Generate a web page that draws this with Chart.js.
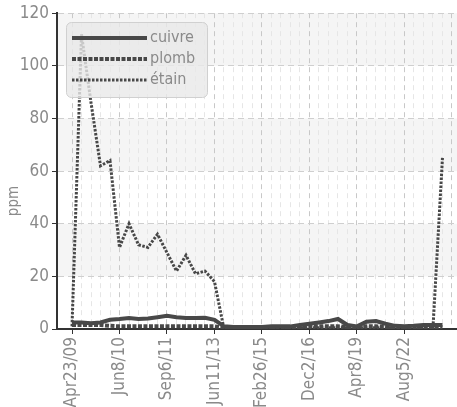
<!DOCTYPE html>
<html>
<head>
<meta charset="utf-8">
<script src="https://cdn.jsdelivr.net/npm/chart.js@4"></script>
<style>
  html, body { margin: 0; padding: 0; background: #fff; }
  #cont { width: 457px; height: 407px; position: relative; }
</style>
</head>
<body>
<div id="cont"><canvas id="grafMetaux"></canvas></div>
<script>
// etiquettes de l'axe x (une tous les 5 points)
const etiquettes = ['Apr23/09', 'Jun8/10', 'Sep6/11', 'Jun11/13', 'Feb26/15', 'Dec2/16', 'Apr8/19', 'Aug5/22']
const pasEtiquette = 5

const cuivre = [2.5, 2.5, 2.2, 2.5, 3.5, 3.8, 4.2, 3.8, 4, 4.5, 5, 4.5, 4.2, 4.2, 4.3, 3.5, 1, 0.8, 0.8, 0.8,
                0.8, 1, 1, 1, 1.5, 2, 2.5, 3, 3.8, 1.5, 1, 2.8, 3, 2, 1.2, 1, 1.2, 1.5, 1.5, 1.5]
const plomb = [1.5, 1.5, 1.5, 1.5, 1.2, 1, 1, 1, 1, 1, 1, 1, 1, 1, 1, 1, 0.5, 0.5, 0.5, 0.5,
               0.5, 0.5, 0.5, 0.5, 0.8, 1, 1, 1, 1, 0.8, 0.8, 1, 1, 0.8, 0.5, 0.5, 0.5, 0.8, 0.8, 0.8]
const etain = [1, 112, 86, 62, 64, 31, 40, 32, 31, 36, 29, 22, 28, 21, 22, 18, 0, 0.3, 0.3, 0.3,
               0.3, 0.3, 0.3, 0.5, 0.5, 0.5, 0.5, 0.5, 0.5, 0.5, 0.5, 0.5, 0.5, 0.5, 0.5, 0.5, 0.5, 0.5, 0.5, 65]

const police = "'Liberation Sans Narrow', 'DejaVu Sans Condensed', 'Roboto', sans-serif"
const gris = '#484848'

function serie(label, valeurs, largeur, tirets) {
    return {
        label: label,
        data: valeurs.map((v, i) => ({x: i, y: v})),
        borderColor: gris,
        backgroundColor: gris,
        borderWidth: largeur,
        borderDash: tirets,
        pointRadius: 0,
        tension: 0,
    }
}

// bandes grises alternees
const bandes = {
    id: 'bandes',
    beforeDraw(chart) {
        let ctx = chart.ctx
        let a = chart.chartArea
        let y = chart.scales.y
        ctx.save()
        ctx.fillStyle = '#f5f5f5'
        for (let v = 20; v < 120; v += 40) {
            let haut = y.getPixelForValue(v + 20)
            let bas = y.getPixelForValue(v)
            ctx.fillRect(a.left, haut, a.right - a.left, bas - haut)
        }
        ctx.restore()
    }
}

// legende dans le graphique + titre ppm
const legende = {
    id: 'legende',
    afterDraw(chart) {
        let ctx = chart.ctx
        ctx.save()
        ctx.fillStyle = 'rgba(232,232,232,0.8)'
        ctx.strokeStyle = '#d0d0d0'
        ctx.lineWidth = 1
        ctx.beginPath()
        ctx.roundRect(66.5, 22.5, 141, 75, 5)
        ctx.fill()
        ctx.stroke()
        chart.data.datasets.forEach((ds, i) => {
            let y = 38 + i * 21
            ctx.strokeStyle = ds.borderColor
            ctx.lineWidth = ds.borderWidth
            ctx.setLineDash(ds.borderDash)
            ctx.beginPath()
            ctx.moveTo(72, y)
            ctx.lineTo(147, y)
            ctx.stroke()
            ctx.setLineDash([])
            ctx.fillStyle = '#8a8a8a'
            ctx.font = '16px ' + police
            ctx.textBaseline = 'middle'
            ctx.fillText(ds.label, 150, y)
        })
        ctx.translate(14, 201)
        ctx.rotate(-Math.PI / 2)
        ctx.textAlign = 'center'
        ctx.textBaseline = 'middle'
        ctx.fillStyle = '#8a8a8a'
        ctx.font = '15px ' + police
        ctx.fillText('ppm', 0, 0)
        ctx.restore()
    }
}

let graf = new Chart(document.getElementById('grafMetaux'), {
    type: 'line',
    data: {
        datasets: [
            serie('cuivre', cuivre, 4, []),
            serie('plomb', plomb, 4, [4, 1.5]),
            serie('étain', etain, 3, [2.5, 1.5]),
        ]
    },
    options: {
        responsive: true,
        maintainAspectRatio: false,
        animation: false,
        layout: { padding: { top: 11, right: 0 } },
        plugins: { legend: { display: false }, tooltip: { enabled: false } },
        scales: {
            x: {
                type: 'linear',
                min: -1.58,
                max: 40.53,
                afterBuildTicks(axis) {
                    let t = []
                    for (let i = 0; i <= 40; i++) t.push({value: i})
                    axis.ticks = t
                },
                afterFit(axis) {
                    axis.height = 78
                    axis.paddingLeft = 0
                    axis.paddingRight = 0
                },
                ticks: {
                    autoSkip: false,
                    maxRotation: 90,
                    minRotation: 90,
                    color: '#8a8a8a',
                    font: { family: police, size: 17 },
                    padding: 3,
                    callback: (v) => (v % pasEtiquette === 0 && etiquettes[v / pasEtiquette]) || '',
                },
                grid: {
                    color: (c) => c.tick && c.tick.value % pasEtiquette === 0 ? '#c8c8c8' : '#e6e6e6',
                    tickColor: (c) => c.tick && c.tick.value % pasEtiquette === 0 && c.tick.value < 40 ? '#333' : 'rgba(0,0,0,0)',
                    tickLength: 5,
                    lineWidth: 1,
                },
                border: { color: '#333', width: 2, dash: [5, 4] },
            },
            y: {
                min: 0,
                max: 120,
                afterFit(axis) { axis.width = 57 },
                ticks: {
                    stepSize: 20,
                    color: '#8a8a8a',
                    font: { family: police, size: 17 },
                    padding: 3,
                },
                grid: {
                    color: '#cfcfcf',
                    tickColor: '#333',
                    tickLength: 5,
                },
                border: { color: '#333', width: 2, dash: [6, 4] },
            }
        }
    },
    plugins: [bandes, legende]
})
</script>
</body>
</html>
